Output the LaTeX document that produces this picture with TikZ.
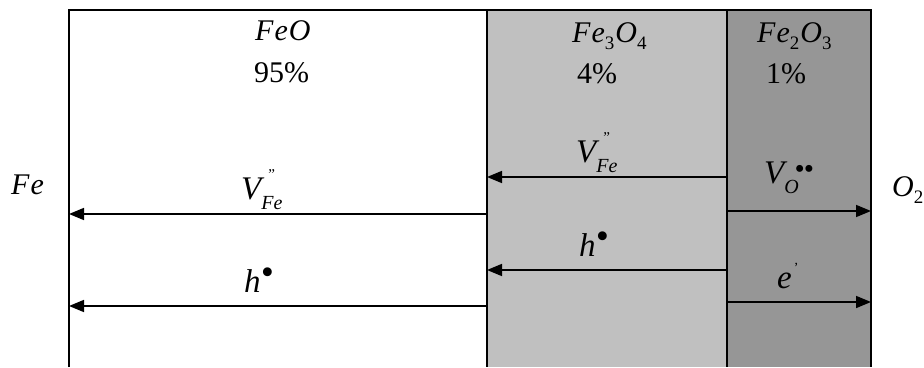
\documentclass[tikz,border=0pt]{standalone}
\usepackage{fontspec}
\setmainfont{Liberation Serif}
\usetikzlibrary{arrows.meta}
\definecolor{magfill}{HTML}{C0C0C0}
\definecolor{hemfill}{HTML}{969696}
\newcommand{\dn}[1]{\raisebox{-7pt}{\fontsize{19}{19}\selectfont\upshape #1}}
\newcommand{\vsub}[1]{\raisebox{-10pt}{\fontsize{20}{20}\selectfont\itshape #1}}
\newcommand{\dq}{\rlap{\hspace{7pt}\raisebox{20pt}{\fontsize{15}{15}\selectfont\upshape\char"22}}}
\newcommand{\bul}[1]{{\fontsize{#1}{#1}\selectfont\textbullet}}
\begin{document}
\begin{tikzpicture}[x=1pt,y=-1pt,
  lbl/.style={inner sep=0pt,anchor=base west,font=\fontsize{30}{30}\selectfont},
  vlbl/.style={inner sep=0pt,anchor=base west,font=\fontsize{33}{33}\selectfont\itshape},
  border/.style={line width=1.6pt},
  flow/.style={line width=1.6pt,-{Triangle[length=15pt,width=12pt]}}]
\useasboundingbox (0,0) rectangle (924,367);
% fills
\fill[magfill] (487,10) rectangle (727,367);
\fill[hemfill] (727,10) rectangle (871,367);
% borders
\coordinate (tl) at (69,10);
\coordinate (tr) at (871,10);
\coordinate (b1) at (487,10);
\coordinate (b2) at (727,10);
\coordinate (bl) at (69,367);
\coordinate (br) at (871,367);
\coordinate (b1b) at (487,367);
\coordinate (b2b) at (727,367);
\draw[border] (bl) -- (tl) -- (tr) -- (br);
\draw[border] (b1) -- (b1b);
\draw[border] (b2) -- (b2b);
% arrow endpoints
\coordinate (a1s) at (487,214); \coordinate (a1e) at (69,214);
\coordinate (a2s) at (487,306); \coordinate (a2e) at (69,306);
\coordinate (a3s) at (727,177); \coordinate (a3e) at (487,177);
\coordinate (a4s) at (727,270); \coordinate (a4e) at (487,270);
\coordinate (a5s) at (727,211); \coordinate (a5e) at (871,211);
\coordinate (a6s) at (727,302); \coordinate (a6e) at (871,302);
\draw[flow] (a1s) -- (a1e);
\draw[flow] (a2s) -- (a2e);
\draw[flow] (a3s) -- (a3e);
\draw[flow] (a4s) -- (a4e);
\draw[flow] (a5s) -- (a5e);
\draw[flow] (a6s) -- (a6e);
% headings
\node[lbl] (feo) at (255,40) {\itshape F\kern1pt e\kern1pt O};
\node[lbl] (p95) at (254,82) {95\%};
\node[lbl] (fe3o4) at (572,42) {\itshape F\kern1pt e\dn{3}\kern1pt O\dn{4}};
\node[lbl] (p4) at (577,83) {4\%};
\node[lbl] (fe2o3) at (757,42) {\itshape F\kern1pt e\dn{2}\kern1pt O\dn{3}};
\node[lbl] (p1) at (766,83) {1\%};
\node[lbl] (fe) at (11,194) {\itshape F\kern1pt e};
\node[lbl] (o2) at (892,196) {\itshape O\dn{2}};
% species
\node[vlbl] (vfe1) at (241,199) {V\dq\vsub{Fe}};
\node[vlbl] (vfe2) at (576,162) {V\dq\vsub{Fe}};
\node[vlbl] (vo) at (764,183) {V\rlap{\hspace{10pt}\raisebox{5pt}{\bul{29}\kern-1pt\bul{29}}}\vsub{O}};
\node[vlbl] (h1) at (579,256) {h\raisebox{8pt}{\bul{37}}};
\node[vlbl] (h2) at (244,292) {h\raisebox{8pt}{\bul{37}}};
\node[vlbl] (e1) at (777,288) {e\hspace{2pt}\raisebox{16pt}{\fontsize{14}{14}\selectfont\upshape\char"27}};
\end{tikzpicture}
\end{document}
